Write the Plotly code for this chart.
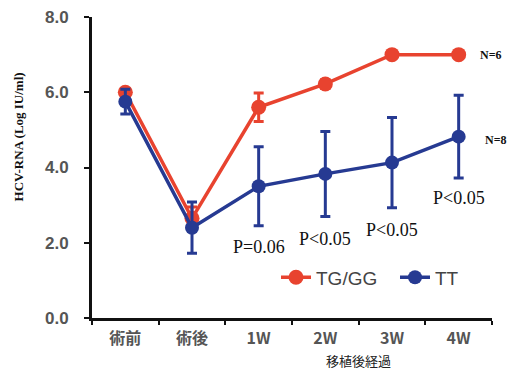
import plotly.graph_objects as go

categories = ["術前", "術後", "1W", "2W", "3W", "4W"]
tg_gg = [6.0, 2.65, 5.6, 6.22, 7.0, 7.0]
tg_gg_err = [0.1, 0.3, 0.38, 0.12, 0.0, 0.0]
tt = [5.75, 2.4, 3.5, 3.83, 4.13, 4.82]
tt_err = [0.33, 0.68, 1.05, 1.13, 1.2, 1.1]
y_ticks = [0, 2, 4, 6, 8]
y_ticklabels = ["0.0", "2.0", "4.0", "6.0", "8.0"]
p_labels = ["P=0.06", "P<0.05", "P<0.05", "P<0.05"]
p_cats = ["1W", "2W", "3W", "4W"]
p_y = [1.9, 2.1, 2.33, 3.2]
n_labels = ["N=6", "N=8"]
n_y = [7.0, 4.73]

RED = "#E8432F"
BLUE = "#263A92"

fig = go.Figure()
fig.add_trace(go.Scatter(
    x=categories, y=tg_gg, name="TG/GG", mode="lines+markers",
    line=dict(color=RED, width=3.5), marker=dict(color=RED, size=15),
    error_y=dict(type="data", array=tg_gg_err, color=RED, thickness=3, width=5),
))
fig.add_trace(go.Scatter(
    x=categories, y=tt, name="TT", mode="lines+markers",
    line=dict(color=BLUE, width=3.5), marker=dict(color=BLUE, size=14),
    error_y=dict(type="data", array=tt_err, color=BLUE, thickness=3, width=5),
))

for c, t, yv in zip(p_cats, p_labels, p_y):
    fig.add_annotation(x=c, y=yv, text=t, showarrow=False,
                       font=dict(family="Liberation Serif", size=18, color="#111"))

fig.add_annotation(x=1.0, xref="paper", xanchor="left", xshift=-14, y=n_y[0], text="<b>" + n_labels[0] + "</b>",
                   showarrow=False, font=dict(family="Liberation Serif", size=12, color="#111"))
fig.add_annotation(x=1.0, xref="paper", xanchor="left", xshift=-9, y=n_y[1], text="<b>" + n_labels[1] + "</b>",
                   showarrow=False, font=dict(family="Liberation Serif", size=12, color="#111"))

fig.add_annotation(x=0.665, xref="paper", y=-0.142, yref="paper", yanchor="middle",
                   text="移植後経過", showarrow=False,
                   font=dict(family="Noto Sans CJK JP", size=13, color="#222"))

fig.add_annotation(x=-0.185, xref="paper", xanchor="center", y=0.6, yref="paper", yanchor="middle",
                   text="<b>HCV-RNA (Log IU/ml)</b>", textangle=-90, showarrow=False,
                   font=dict(family="Liberation Serif", size=13, color="#111"))

fig.update_layout(
    width=508, height=370,
    margin=dict(l=92, r=16, t=17, b=52, autoexpand=False),
    paper_bgcolor="white", plot_bgcolor="white",
    showlegend=True,
    legend=dict(orientation="h", x=0.46, y=0.135, xanchor="left", yanchor="middle",
                font=dict(family="Liberation Sans", size=19, color="#444"),
                bgcolor="rgba(0,0,0,0)", itemwidth=30, tracegroupgap=0,
                entrywidth=74, entrywidthmode="pixels"),
    xaxis=dict(
        type="category", range=[-0.5, 5.5], showline=True, linecolor="#111", linewidth=3,
        ticks="outside", tickson="boundaries", ticklen=4, tickwidth=2, tickcolor="#111",
        showgrid=False, zeroline=False, automargin=False, ticklabeloverflow="allow",
        ticklabelstandoff=4,
        tickfont=dict(family="Noto Sans CJK JP, Liberation Sans", size=16, color="#555", weight="bold"),
    ),
    yaxis=dict(
        range=[0, 8], tickvals=y_ticks, ticktext=y_ticklabels, showline=True,
        linecolor="#111", linewidth=3, ticks="outside", ticklen=5, tickwidth=2, tickcolor="#111",
        showgrid=False, zeroline=False, automargin=False, ticklabeloverflow="allow",
        ticklabelstandoff=12,
        tickfont=dict(family="Liberation Sans", size=17, color="#555", weight="bold"),
    ),
)

# remove the browser's default 8px body margin so the figure fills the window
fig.write_html("out.html", config={"displayModeBar": False},
               post_script="document.body.style.margin='0';")
